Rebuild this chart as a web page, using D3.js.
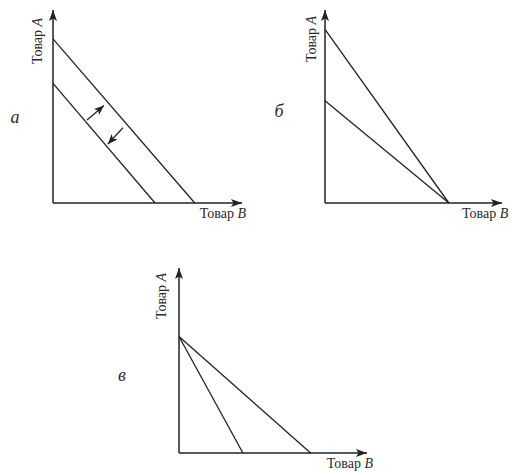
<!DOCTYPE html>
<html>
<head>
<meta charset="utf-8">
<script src="https://cdn.jsdelivr.net/npm/d3@7"></script>
<style>
  body { margin: 0; background: #fff; }
  svg text { font-family: "Times New Roman", "Liberation Serif", Times, serif; fill: #2a2a2a; }
</style>
</head>
<body>
<svg id="chart" width="513" height="472"></svg>
<script>
// budget lines, given as intercepts in axis units (0..100 = up to the arrow tip)
const panelNames = ["а", "б", "в"];
const linesA = [{ yInt: 85, xInt: 75 }, { yInt: 62, xInt: 54 }];
const linesB = [{ yInt: 90, xInt: 70 }, { yInt: 53, xInt: 70 }];
const linesC = [{ yInt: 63, xInt: 34 }, { yInt: 63, xInt: 70 }];
const shiftArrowsA = [
  { from: [18, 43], to: [27, 50.5] },
  { from: [37, 39], to: [29, 30.5] },
];
const yTitle = ["Товар ", "A"];
const xTitle = ["Товар ", "B"];

const svg = d3.select("#chart");
const ink = "#222";

const defs = svg.append("defs");
defs
  .append("marker")
  .attr("id", "axisHead")
  .attr("viewBox", "0 0 11 8")
  .attr("refX", 11)
  .attr("refY", 4)
  .attr("markerWidth", 11)
  .attr("markerHeight", 8)
  .attr("markerUnits", "userSpaceOnUse")
  .attr("orient", "auto")
  .append("path")
  .attr("d", "M0,0 L11,4 L0,8 L2.5,4 Z")
  .attr("fill", ink);
defs
  .append("marker")
  .attr("id", "smallHead")
  .attr("viewBox", "0 0 10 8")
  .attr("refX", 10)
  .attr("refY", 4)
  .attr("markerWidth", 10)
  .attr("markerHeight", 8)
  .attr("markerUnits", "userSpaceOnUse")
  .attr("orient", "auto")
  .append("path")
  .attr("d", "M0,0 L10,4 L0,8 L2.5,4 Z")
  .attr("fill", ink);

const frames = [
  { name: panelNames[0], lines: linesA, arrows: shiftArrowsA, ox: 53, oy: 203, xEnd: 242, yEnd: 10,
    nameX: 15, nameY: 123, yTitleX: 42, yTitleY: 41, xTitleX: 246, xTitleY: 218, xAnchor: "end" },
  { name: panelNames[1], lines: linesB, arrows: [], ox: 325, oy: 203, xEnd: 502, yEnd: 10,
    nameX: 279, nameY: 117, yTitleX: 316, yTitleY: 39, xTitleX: 462, xTitleY: 218, xAnchor: "start" },
  { name: panelNames[2], lines: linesC, arrows: [], ox: 179, oy: 453, xEnd: 367, yEnd: 268,
    nameX: 122, nameY: 381, yTitleX: 166, yTitleY: 296, xTitleX: 373, xTitleY: 468, xAnchor: "end" },
];

const line = d3.line();

frames.forEach((f) => {
  const x = d3.scaleLinear().domain([0, 100]).range([f.ox, f.xEnd]);
  const y = d3.scaleLinear().domain([0, 100]).range([f.oy, f.yEnd]);
  const g = svg.append("g");

  // axes with arrow heads
  g.append("path")
    .attr("d", line([[x(0), y(0)], [x(100), y(0)]]))
    .attr("stroke", ink)
    .attr("stroke-width", 1.5)
    .attr("fill", "none")
    .attr("marker-end", "url(#axisHead)");
  g.append("path")
    .attr("d", line([[x(0), y(0)], [x(0), y(100)]]))
    .attr("stroke", ink)
    .attr("stroke-width", 1.5)
    .attr("fill", "none")
    .attr("marker-end", "url(#axisHead)");

  // budget lines
  g.selectAll("path.budget")
    .data(f.lines)
    .enter()
    .append("path")
    .classed("budget", true)
    .attr("d", (d) => line([[x(0), y(d.yInt)], [x(d.xInt), y(0)]]))
    .attr("stroke", ink)
    .attr("stroke-width", 1.3)
    .attr("fill", "none");

  // shift arrows (panel а only)
  g.selectAll("path.shift")
    .data(f.arrows)
    .enter()
    .append("path")
    .classed("shift", true)
    .attr("d", (d) => line([[x(d.from[0]), y(d.from[1])], [x(d.to[0]), y(d.to[1])]]))
    .attr("stroke", ink)
    .attr("stroke-width", 1.3)
    .attr("fill", "none")
    .attr("marker-end", "url(#smallHead)");

  // axis titles
  const yt = g
    .append("text")
    .attr("transform", `translate(${f.yTitleX},${f.yTitleY}) rotate(-90)`)
    .attr("text-anchor", "middle")
    .attr("font-size", 14);
  yt.append("tspan").text(yTitle[0]);
  yt.append("tspan").attr("font-style", "italic").text(yTitle[1]);

  const xt = g
    .append("text")
    .attr("x", f.xTitleX)
    .attr("y", f.xTitleY)
    .attr("text-anchor", f.xAnchor)
    .attr("font-size", 14);
  xt.append("tspan").text(xTitle[0]);
  xt.append("tspan").attr("font-style", "italic").text(xTitle[1]);

  // panel letter
  g.append("text")
    .attr("x", f.nameX)
    .attr("y", f.nameY)
    .attr("text-anchor", "middle")
    .attr("font-size", 18)
    .attr("font-style", "italic")
    .text(f.name);
});
</script>
</body>
</html>
